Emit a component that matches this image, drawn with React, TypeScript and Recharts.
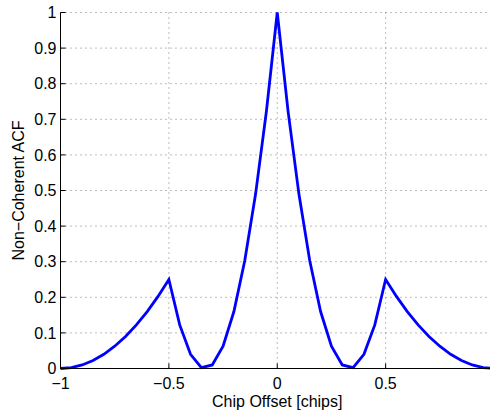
import { CartesianGrid, Label, Line, LineChart, XAxis, YAxis } from 'recharts'

// chip offsets, sampled every 0.05 chip
const offsets = [
  -1, -0.95, -0.9, -0.85, -0.8, -0.75, -0.7, -0.65, -0.6, -0.55, -0.5, -0.45, -0.4, -0.35, -0.3, -0.25,
  -0.2, -0.15, -0.1, -0.05, 0, 0.05, 0.1, 0.15, 0.2, 0.25, 0.3, 0.35, 0.4, 0.45, 0.5, 0.55, 0.6, 0.65,
  0.7, 0.75, 0.8, 0.85, 0.9, 0.95, 1,
]

// non-coherent ACF
const acf = [
  0, 0.0025, 0.01, 0.0225, 0.04, 0.0625, 0.09, 0.1225, 0.16, 0.2025, 0.25, 0.1225, 0.04, 0.0025, 0.01,
  0.0625, 0.16, 0.3025, 0.49, 0.7225, 1, 0.7225, 0.49, 0.3025, 0.16, 0.0625, 0.01, 0.0025, 0.04, 0.1225,
  0.25, 0.2025, 0.16, 0.1225, 0.09, 0.0625, 0.04, 0.0225, 0.01, 0.0025, 0,
]

// the figure is cropped just before +1, so that tick is left off
const xTicks = [-1, -0.5, 0, 0.5]
const yTicks = [0, 0.1, 0.2, 0.3, 0.4, 0.5, 0.6, 0.7, 0.8, 0.9, 1]

const data = offsets.map((offset, i) => ({ offset, acf: acf[i] }))

const font = '"Liberation Sans", Arial, Helvetica, sans-serif'
const fmt = (v: number) => String(v).replace('-', '\u2212')
const tickStyle = { fill: '#000', fontSize: 16, fontFamily: font }

export default function App() {
  return (
    <div
      style={{
        position: 'absolute',
        left: 0,
        top: 0,
        width: 490,
        height: 414,
        overflow: 'hidden',
        background: '#fff',
      }}
    >
      <LineChart width={520} height={414} data={data} margin={{ top: 12.5, right: 26, bottom: 0, left: 0.5 }}>
        <CartesianGrid stroke="#7a7a7a" strokeDasharray="1 4" />
        <XAxis
          dataKey="offset"
          type="number"
          domain={[-1, 1]}
          ticks={xTicks}
          tickFormatter={fmt}
          height={45.5}
          axisLine={{ stroke: '#000' }}
          tickLine={{ stroke: '#000' }}
          tickSize={-5}
          tickMargin={14}
          tick={tickStyle}
          interval={0}
        >
          <Label value="Chip Offset [chips]" position="center" dy={10} fill="#000" fontSize={16} fontFamily={font} />
        </XAxis>
        <XAxis
          xAxisId="top"
          orientation="top"
          dataKey="offset"
          type="number"
          domain={[-1, 1]}
          ticks={xTicks}
          tickFormatter={() => ''}
          height={0}
          axisLine={{ stroke: '#000' }}
          tickLine={{ stroke: '#000' }}
          tickSize={-5}
          interval={0}
        />
        <YAxis
          type="number"
          domain={[0, 1]}
          ticks={yTicks}
          tickFormatter={fmt}
          width={60}
          axisLine={{ stroke: '#000' }}
          tickLine={{ stroke: '#000' }}
          tickSize={-5}
          tickMargin={9}
          tick={tickStyle}
          interval={0}
        >
          <Label
            value={'Non\u2212Coherent ACF'}
            position="center"
            angle={-90}
            dx={-12.5}
            fill="#000"
            fontSize={16}
            fontFamily={font}
          />
        </YAxis>
        <Line
          type="linear"
          dataKey="acf"
          stroke="#0000ff"
          strokeWidth={2.8}
          dot={false}
          isAnimationActive={false}
        />
      </LineChart>
    </div>
  )
}
